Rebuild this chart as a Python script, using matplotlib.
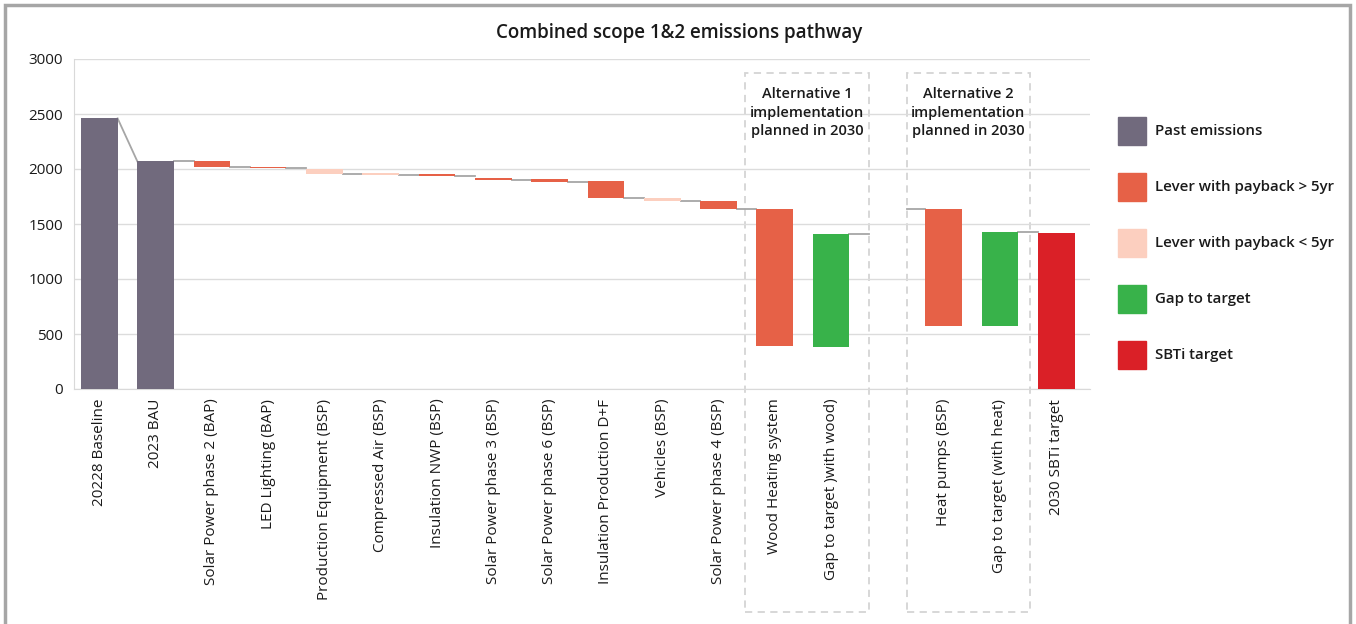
import matplotlib
matplotlib.use("Agg")
import matplotlib.pyplot as plt
from matplotlib.patches import Rectangle

plt.rcParams['font.family'] = ['Open Sans', 'DejaVu Sans']

labels = ["20228 Baseline", "2023 BAU", "Solar Power phase 2 (BAP)", "LED Lighting (BAP)",
          "Production Equipment (BSP)", "Compressed Air (BSP)", "Insulation NWP (BSP)",
          "Solar Power phase 3 (BSP)", "Solar Power phase 6 (BSP)", "Insulation Production D+F",
          "Vehicles (BSP)", "Solar Power phase 4 (BSP)", "Wood Heating system",
          "Gap to target )with wood)", "", "Heat pumps (BSP)", "Gap to target (with heat)",
          "2030 SBTi target"]
tops = [2460, 2070, 2070, 2020, 2000, 1965, 1955, 1920, 1910, 1890, 1735, 1710,
        1635, 1405, None, 1635, 1425, 1415]
bottoms = [0, 0, 2018, 2012, 1958, 1942, 1932, 1897, 1885, 1740, 1712, 1640,
           390, 380, None, 570, 570, 0]
kinds = ["past", "past", "high", "high", "low", "low", "high", "high", "high", "high",
         "low", "high", "high", "gap", None, "high", "gap", "sbti"]

colors = {"past": "#716a7d", "high": "#e66147", "low": "#fccfbf",
          "gap": "#38b24a", "sbti": "#da2027"}
legend_names = {"past": "Past emissions", "high": "Lever with payback > 5yr",
                "low": "Lever with payback < 5yr", "gap": "Gap to target",
                "sbti": "SBTi target"}

W, H = 1356, 624
fig = plt.figure(figsize=(W / 100, H / 100), dpi=100)
ax = fig.add_axes([74 / W, 1 - 389 / H, (1090 - 74) / W, (389 - 59) / H])

bw = 0.65
for i, (t, b, k) in enumerate(zip(tops, bottoms, kinds)):
    if k is None:
        continue
    ax.bar(i, t - b, bottom=b, width=bw, color=colors[k], zorder=3)

# connector lines
line_kw = dict(color="#a6a6a6", lw=1.3, zorder=2)
h = bw / 2
end = [b if k in ("high", "low") else t for t, b, k in zip(tops, bottoms, kinds)]
ax.plot([0 + h, 1 - h], [tops[0], tops[1]], **line_kw)
for i in range(1, 12):
    ax.plot([i + h, i + 1 - h], [end[i], end[i]], **line_kw)
ax.plot([13 + h, 13.67], [tops[13], tops[13]], **line_kw)
ax.plot([14.34, 15 - h], [tops[15], tops[15]], **line_kw)
ax.plot([16 + h, 17 - h], [tops[16], tops[16]], **line_kw)

ax.set_xlim(-0.45, 17.6)
ax.set_ylim(0, 3000)
ax.set_yticks(range(0, 3001, 500))
ax.set_xticks(range(len(labels)))
ax.set_xticklabels(labels, rotation=90, fontsize=11, color="#1a1a1a")
ax.tick_params(axis="y", labelsize=11, colors="#1a1a1a", length=0, pad=8)
ax.tick_params(axis="x", length=0, pad=7)
ax.grid(axis="y", color="#dcdcdc", lw=1, zorder=0)
for s in ["top", "right"]:
    ax.spines[s].set_visible(False)
for s in ["left", "bottom"]:
    ax.spines[s].set_color("#d9d9d9")

# dashed boxes for the alternatives
for x0, x1, txt in [(11.47, 13.67, "Alternative 1\nimplementation\nplanned in 2030"),
                    (14.34, 16.53, "Alternative 2\nimplementation\nplanned in 2030")]:
    ax.add_patch(Rectangle((x0, -2030), x1 - x0, 2873 + 2030, fill=False,
                           ec="#d4d4d4", lw=1.3, ls=(0, (4, 3)), clip_on=False, zorder=1))
    ax.text((x0 + x1) / 2, 2510, txt, ha="center", va="center", fontsize=10.5,
            fontweight="semibold", color="#1a1a1a", linespacing=1.4)

fig.text(679 / W, 1 - 33 / H, "Combined scope 1&2 emissions pathway", ha="center",
         va="center", fontsize=13.5, fontweight="semibold", color="#1a1a1a")

# legend
for j, k in enumerate(["past", "high", "low", "gap", "sbti"]):
    yc = 131 + 56 * j
    fig.patches.append(Rectangle((1118 / W, 1 - (yc + 14) / H), 28 / W, 28 / H,
                                 transform=fig.transFigure, color=colors[k]))
    fig.text(1155 / W, 1 - yc / H, legend_names[k], ha="left", va="center",
             fontsize=10.8, fontweight="semibold", color="#1a1a1a")

# outer frame
fig.patches.append(Rectangle((5 / W, -0.05), (1350 - 5) / W, 1 - 5 / H + 0.05,
                             transform=fig.transFigure, fill=False, ec="#a6a6a6", lw=2.5))

fig.savefig("out.png", dpi=100)
